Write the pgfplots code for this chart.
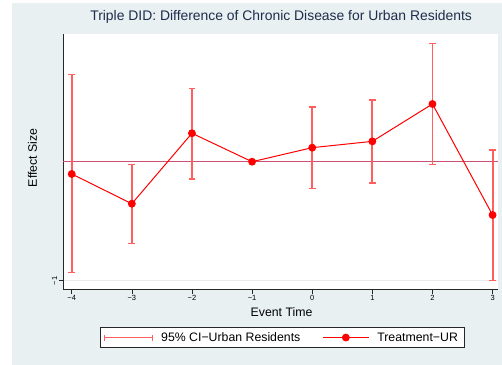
\documentclass[border=0pt]{standalone}
\usepackage{pgfplots}
\pgfplotsset{compat=1.18}
\usepackage{pgfplotstable}
\usepackage{fontspec}
\setmainfont{Liberation Sans}

\definecolor{bgcol}{RGB}{232,240,242}
\definecolor{titlecol}{RGB}{30,45,75}
\definecolor{cicol}{RGB}{255,95,95}
\definecolor{ptcol}{RGB}{255,0,0}
\definecolor{zerocol}{RGB}{204,80,115}

% legend symbols: capped range and line with centred marker
\pgfplotsset{
  cilegend/.style={legend image code/.code={
    \draw[##1, mark=none, line width=1.2bp] (0bp,0bp) -- (48bp,0bp);
    \draw[##1, mark=none, line width=1.2bp] (0bp,-3bp) -- (0bp,3bp);
    \draw[##1, mark=none, line width=1.2bp] (48bp,-3bp) -- (48bp,3bp);}},
  ptlegend/.style={legend image code/.code={
    \draw[##1, mark repeat=2, mark phase=2]
      plot coordinates {(0bp,0bp) (23bp,0bp) (46bp,0bp)};}},
}

% event time, point estimate
\pgfplotstableread{
x   b
-4  -0.103
-3  -0.353
-2   0.239
-1   0.000
 0   0.118
 1   0.171
 2   0.485
 3  -0.448
}\estimates

% 95% interval bounds, one lower/upper pair per event time
\pgfplotstableread{
x   y
-4  -0.933
-4   0.731
-4   nan
-3  -0.689
-3  -0.022
-3   nan
-2  -0.145
-2   0.613
-2   nan
 0  -0.227
 0   0.460
 0   nan
 1  -0.179
 1   0.518
 1   nan
 2  -0.022
 2   0.992
 2   nan
 3  -1.000
 3   0.098
}\cibands

\begin{document}
\begin{tikzpicture}
\path[use as bounding box, fill=white] (0,0) rectangle (502bp,-365bp);
\fill[bgcol] (12bp,-3bp) rectangle (502bp,-365bp);
\begin{axis}[
  at={(63.3bp,-289.3bp)}, anchor=south west,
  scale only axis, width=434.7bp, height=255.3bp,
  xmin=-4.14, xmax=3.09, ymin=-1.072, ymax=1.073,
  axis background/.style={fill=white},
  axis lines*=left,
  axis line style={-, black!85, line width=0.8bp},
  tick align=outside, major tick length=4.5bp,
  tick style={black!85, line width=0.6bp},
  xtick={-4,-3,-2,-1,0,1,2,3},
  xticklabels={−4,−3,−2,−1,0,1,2,3},
  ytick={-1}, yticklabels={−1},
  ymajorgrids, grid style={black!8, line width=0.6bp},
  xticklabel style={font=\fontsize{7.5bp}{9bp}\selectfont, inner sep=1.5bp},
  yticklabel style={font=\fontsize{7.5bp}{9bp}\selectfont, rotate=90, anchor=south, inner sep=1.5bp},
  title={Triple DID: Difference of Chronic Disease for Urban Residents},
  title style={at={(axis description cs:0.501,1.045)}, anchor=center,
    font=\fontsize{13.9bp}{16bp}\selectfont, text=titlecol},
  xlabel={Event Time},
  xlabel style={at={(axis description cs:0.502,-0.088)}, anchor=center,
    font=\fontsize{12.3bp}{14bp}\selectfont},
  ylabel={Effect Size},
  ylabel style={at={(axis description cs:-0.071,0.515)}, anchor=center,
    font=\fontsize{12.3bp}{14bp}\selectfont},
  legend columns=2,
  legend style={at={(axis description cs:0.503,-0.189)}, anchor=center,
    draw=black!85, line width=0.7bp, fill=white,
    font=\fontsize{12.3bp}{14bp}\selectfont,
    inner xsep=4bp, inner ysep=3bp,
    /tikz/every odd column/.append style={column sep=6bp},
    /tikz/every even column/.append style={column sep=20bp}},
  unbounded coords=jump,
  clip=false,
]
% reference line at zero
\draw[zerocol, line width=1.5bp] (axis cs:-4.14,0) -- (axis cs:3.09,0);

% confidence intervals as capped ranges
\addplot[cicol, line width=1.9bp, mark=-, mark size=3.4bp,
  mark options={line width=1.3bp}, cilegend]
  table[x=x, y=y] {\cibands};
\addlegendentry{95\% CI−Urban Residents}

% point estimates
\addplot[ptcol, line width=1bp, mark=*, mark size=3.4bp,
  mark options={fill=ptcol, draw=ptcol}, ptlegend]
  table[x=x, y=b] {\estimates};
\addlegendentry{Treatment−UR}
\end{axis}
\end{tikzpicture}
\end{document}
